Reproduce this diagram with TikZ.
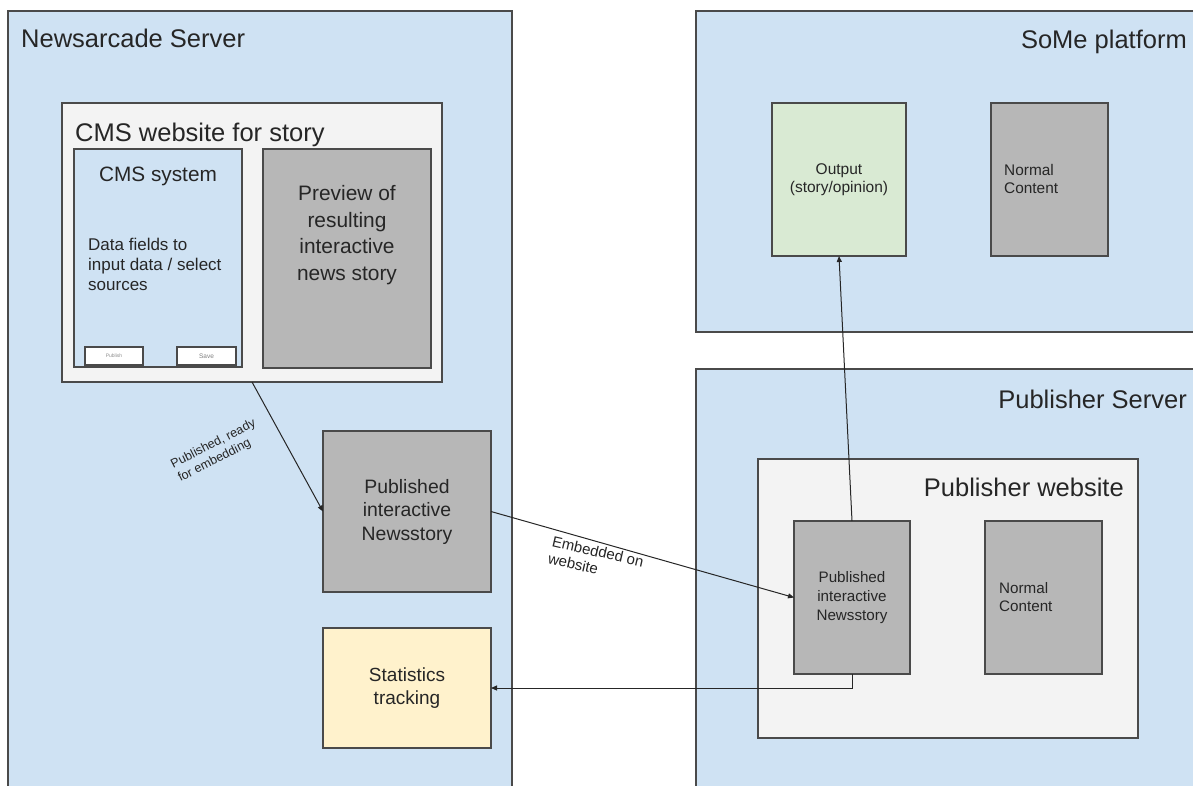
\documentclass[tikz,border=0pt]{standalone}
\usepackage{fontspec}
\setmainfont{Liberation Sans}
\usetikzlibrary{arrows.meta}

\definecolor{panelblue}{HTML}{CFE2F3}
\definecolor{pagegray}{HTML}{F3F3F3}
\definecolor{blockgray}{HTML}{B7B7B7}
\definecolor{outgreen}{HTML}{D9EAD3}
\definecolor{statyellow}{HTML}{FFF2CC}
\definecolor{edgegray}{HTML}{4A4A4A}
\definecolor{inkgray}{HTML}{262626}

\begin{document}
\begin{tikzpicture}[x=1pt,y=-1pt,
  box/.style={draw=edgegray, line width=1.3pt, inner sep=0pt, outer sep=0pt, text=inkgray},
  panel/.style={box, fill=panelblue},
  page/.style={box, fill=pagegray},
  block/.style={box, fill=blockgray},
  btn/.style={box, fill=white, line width=1.1pt},
  title/.style={text=inkgray, inner sep=0pt, font=\fontsize{25.5}{30}\selectfont},
  txt/.style={text=inkgray, inner sep=0pt, align=center},
  lbl/.style={text=inkgray, inner sep=0pt, align=left, font=\fontsize{12.5}{15.5}\selectfont},
  link/.style={draw=black!85, line width=1pt, -{Triangle[length=6pt,width=5pt]}},
]
\useasboundingbox (0,0) rectangle (1193,785);
\clip (0,0) rectangle (1193,785);

% server panels
\node[panel, minimum width=504, minimum height=789] (srvN) at (260,405.5) {};
\node[panel, minimum width=514, minimum height=321] (srvS) at (953,171.5) {};
\node[panel, minimum width=514, minimum height=431] (srvP) at (953,584.5) {};

\node[title, anchor=base west] (tN) at (21,47) {Newsarcade Server};
\node[title, anchor=base east] (tS) at (1187,48) {SoMe platform};
\node[title, anchor=base east] (tP) at (1187,408) {Publisher Server};

% CMS website
\node[page, minimum width=380, minimum height=279] (cmsweb) at (252,242.5) {};
\node[title, anchor=base west] (tC) at (75,141) {CMS website for story};
\node[panel, minimum width=168, minimum height=218] (cmssys) at (158,258) {};
\node[block, minimum width=168, minimum height=219] (preview) at (347,258.5) {};
\node[txt, anchor=base, font=\fontsize{20.8}{25}\selectfont] (tSys) at (158,181) {CMS system};
\node[txt, align=left, anchor=west, font=\fontsize{17}{20}\selectfont] (tData) at (88,264) {Data fields to\\input data / select\\sources};
\node[btn, minimum width=58, minimum height=18, font=\fontsize{5}{6}\selectfont, text=black!45] (btnPub) at (114,356) {Publish};
\node[btn, minimum width=59, minimum height=18, font=\fontsize{6.5}{8}\selectfont, text=black!50] (btnSave) at (206.5,356) {Save};
\node[txt, font=\fontsize{20.9}{26.4}\selectfont] (tPrev) at (347,235) {Preview of\\resulting\\interactive\\news story};

% published story and statistics
\node[block, minimum width=168, minimum height=161, txt, font=\fontsize{19.4}{23.5}\selectfont] (pubL) at (407,511.5) {Published\\interactive\\Newsstory};
\node[box, fill=statyellow, minimum width=168, minimum height=120, txt, font=\fontsize{19}{23}\selectfont] (stats) at (407,688) {Statistics\\tracking};

% SoMe platform contents
\node[box, fill=outgreen, minimum width=134, minimum height=153, txt, font=\fontsize{15.5}{18.5}\selectfont] (output) at (839,179.5) {Output\\(story/opinion)};
\node[block, minimum width=117, minimum height=153] (someNC) at (1049.5,179.5) {};
\node[txt, align=left, anchor=west, font=\fontsize{15.4}{18.5}\selectfont] (tSNC) at (1004,179) {Normal\\Content};

% Publisher website
\node[page, minimum width=380, minimum height=279] (pubweb) at (948,598.5) {};
\node[title, anchor=base east] (tW) at (1124,496) {Publisher website};
\node[block, minimum width=116, minimum height=153, txt, font=\fontsize{15.2}{19}\selectfont] (pubN) at (852,597.5) {Published\\interactive\\Newsstory};
\node[block, minimum width=117, minimum height=153] (pubNC) at (1043.5,597.5) {};
\node[txt, align=left, anchor=west, font=\fontsize{15.2}{18.5}\selectfont] (tPNC) at (999,597) {Normal\\Content};

% connectors
\draw[link] ([xshift=190]cmsweb.south west) -- (pubL.west);
\draw[link] (pubL.east) -- (pubN.west);
\draw[link] (pubN.north) -- (output.south);
\draw[link] (pubN.south) |- (stats.east);

% connector labels
\node[lbl, rotate=27] (lReady) at (217,451) {Published, ready\\for embedding};
\node[lbl, rotate=-13, font=\fontsize{15}{17.5}\selectfont] (lEmb) at (596,560) {Embedded on\\website};
\end{tikzpicture}
\end{document}
